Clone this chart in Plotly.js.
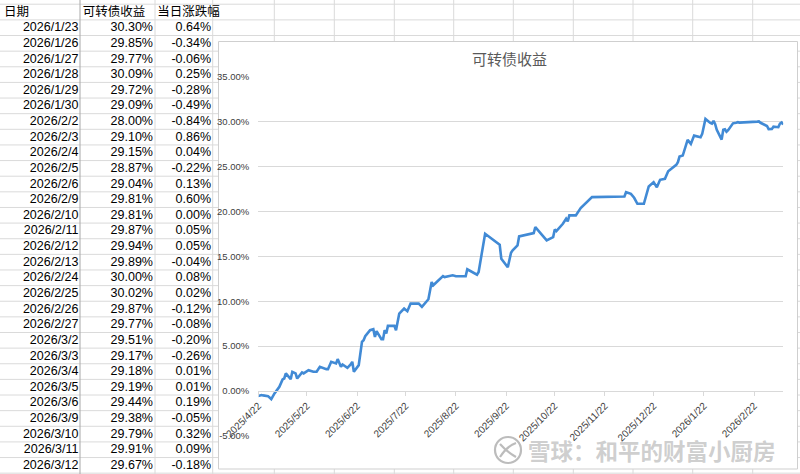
<!DOCTYPE html>
<html>
<head>
<meta charset="utf-8">
<script src="https://cdn.plot.ly/plotly-3.0.1.min.js"></script>
<style>
html,body{margin:0;padding:0;width:800px;height:474px;overflow:hidden;background:#ffffff;}
#chart{position:absolute;left:-10px;top:-20px;width:810px;height:494px;}
</style>
</head>
<body>
<div id="chart"></div>
<script>
// ---------- spreadsheet table data ----------
const headerLabels = ['日期', '可转债收益', '当日涨跌幅'];
const tableDates = ['2026/1/23','2026/1/26','2026/1/27','2026/1/28','2026/1/29','2026/1/30','2026/2/2','2026/2/3','2026/2/4','2026/2/5','2026/2/6','2026/2/9','2026/2/10','2026/2/11','2026/2/12','2026/2/13','2026/2/24','2026/2/25','2026/2/26','2026/2/27','2026/3/2','2026/3/3','2026/3/4','2026/3/5','2026/3/6','2026/3/9','2026/3/10','2026/3/11','2026/3/12'];
const tableYield = [30.30,29.85,29.77,30.09,29.72,29.09,28.00,29.10,29.15,28.87,29.04,29.81,29.81,29.87,29.94,29.89,30.00,30.02,29.87,29.77,29.51,29.17,29.18,29.19,29.44,29.38,29.79,29.91,29.67];
const tableChange = [0.64,-0.34,-0.06,0.25,-0.28,-0.49,-0.84,0.86,0.04,-0.22,0.13,0.60,0.00,0.05,0.05,-0.04,0.08,0.02,-0.12,-0.08,-0.20,-0.26,0.01,0.01,0.19,-0.05,0.32,0.09,-0.18];

// ---------- chart data (earlier history) ----------
const histDates = ['2025-04-22','2025-04-24','2025-04-25','2025-04-28','2025-04-30','2025-05-02','2025-05-05','2025-05-07','2025-05-08','2025-05-09','2025-05-12','2025-05-13','2025-05-15','2025-05-16','2025-05-19','2025-05-20','2025-05-23','2025-05-26','2025-05-28','2025-05-30','2025-06-03','2025-06-04','2025-06-06','2025-06-09','2025-06-10','2025-06-12','2025-06-13','2025-06-16','2025-06-18','2025-06-19','2025-06-20','2025-06-23','2025-06-25','2025-06-26','2025-06-27','2025-06-30','2025-07-02','2025-07-03','2025-07-04','2025-07-07','2025-07-08','2025-07-09','2025-07-10','2025-07-11','2025-07-15','2025-07-16','2025-07-18','2025-07-21','2025-07-23','2025-07-25','2025-07-30','2025-08-01','2025-08-05','2025-08-07','2025-08-08','2025-08-14','2025-08-15','2025-08-20','2025-08-22','2025-08-28','2025-08-29','2025-09-01','2025-09-04','2025-09-05','2025-09-08','2025-09-09','2025-09-18','2025-09-19','2025-09-23','2025-09-25','2025-09-26','2025-09-29','2025-09-30','2025-10-09','2025-10-10','2025-10-17','2025-10-21','2025-10-22','2025-10-23','2025-10-27','2025-10-29','2025-10-30','2025-10-31','2025-11-04','2025-11-07','2025-11-11','2025-11-14','2025-12-04','2025-12-05','2025-12-08','2025-12-10','2025-12-12','2025-12-16','2025-12-19','2025-12-22','2025-12-24','2025-12-26','2025-12-29','2025-12-31','2026-01-05','2026-01-06','2026-01-07','2026-01-09','2026-01-12','2026-01-14','2026-01-16','2026-01-20','2026-01-21','2026-01-22'];
const histValues = [-0.55,-0.44,-0.48,-0.56,-0.89,-0.26,0.48,1.30,1.40,1.97,1.33,2.15,1.97,1.40,2.08,1.97,2.33,2.15,2.15,2.70,2.44,2.44,3.26,3.08,3.56,2.70,2.96,2.59,2.96,3.26,2.15,2.89,5.48,5.67,6.10,6.78,6.89,6.03,6.67,5.78,5.78,6.78,6.41,7.26,7.26,6.78,8.63,9.19,8.89,9.74,9.74,9.37,10.22,12.15,11.78,12.81,12.70,12.89,12.78,12.78,13.56,13.26,12.96,13.26,16.22,17.52,16.30,14.74,13.78,15.41,15.67,16.22,17.22,17.59,18.26,16.78,17.15,18.00,17.81,18.63,19.19,18.89,19.56,19.56,20.37,21.11,21.59,21.67,22.14,21.96,21.52,20.85,20.85,22.78,23.26,22.70,23.52,23.63,24.48,25.19,25.48,26.11,26.22,27.96,27.52,28.44,28.26,28.63,29.47];

const chartTitle = '可转债收益';
const xTickVals = ['2025-04-22','2025-05-22','2025-06-22','2025-07-22','2025-08-22','2025-09-22','2025-10-22','2025-11-22','2025-12-22','2026-01-22','2026-02-22'];
const xTickText = ['2025/4/22','2025/5/22','2025/6/22','2025/7/22','2025/8/22','2025/9/22','2025/10/22','2025/11/22','2025/12/22','2026/1/22','2026/2/22'];
const yTickVals = [-5, 0, 5, 10, 15, 20, 25, 30, 35];
const watermarkText = '雪球：和平的财富小厨房';

// ---------- geometry helpers (page pixels -> paper fractions) ----------
const OX = 10, OY = 20, W = 810, H = 494;
const fx = px => (px + OX) / W;
const fy = py => 1 - (py + OY) / H;

const pct = v => v.toFixed(2) + '%';
const chartX = histDates.concat(tableDates.map(d => d.replace(/\//g, '-')));
const chartY = histValues.concat(tableYield);

const gridColor = '#dadada';
const rowH = 15.63;
const firstRowTop = 19.9;
const headerTop = 4.2;
const colEdges = [155, 212.7, 274.3, 334.3, 394.3, 453.7, 513.3, 573.3, 633, 692.7, 752.7];

const shapes = [];
const rowLines = [headerTop];
for (let k = 0; k <= 30; k++) rowLines.push(firstRowTop + k * rowH);
rowLines.forEach(y => shapes.push({type:'line', xref:'paper', yref:'paper', layer:'below',
  x0: fx(0), x1: fx(800), y0: fy(y), y1: fy(y), line:{color:gridColor, width:1}}));
colEdges.forEach(x => shapes.push({type:'line', xref:'paper', yref:'paper', layer:'below',
  x0: fx(x), x1: fx(x), y0: fy(0), y1: fy(474), line:{color:gridColor, width:1}}));
shapes.push({type:'line', xref:'paper', yref:'paper', layer:'below',
  x0: fx(80), x1: fx(80), y0: fy(0), y1: fy(474), line:{color:'#a8a8a8', width:1}});
shapes.push({type:'rect', xref:'paper', yref:'paper', layer:'below',
  x0: fx(218.5), x1: fx(797.5), y0: fy(469), y1: fy(41.5),
  fillcolor:'#ffffff', line:{color:'#cfcfcf', width:1}});
shapes.push({type:'circle', xref:'paper', yref:'paper', layer:'above',
  x0: fx(495), x1: fx(521), y0: fy(463), y1: fy(437),
  line:{color:'rgba(165,165,165,0.75)', width:2.2}});
shapes.push({type:'path', xref:'paper', yref:'paper', layer:'above',
  path: 'M' + fx(500) + ',' + fy(444) + ' Q' + fx(507) + ',' + fy(452) + ' ' + fx(516) + ',' + fy(457) +
        ' M' + fx(500) + ',' + fy(457) + ' Q' + fx(507) + ',' + fy(446) + ' ' + fx(516) + ',' + fy(443),
  line:{color:'rgba(165,165,165,0.75)', width:2.2}});

const cellFont = {family:'Liberation Sans, Arial, Noto Sans CJK SC, sans-serif', size:12.5, color:'#000000'};
const clear = 'rgba(0,0,0,0)';
const textShift = 6;

const headerTable = {
  type:'table',
  domain:{x:[fx(-4), fx(230)], y:[fy(474), fy(headerTop - textShift)]},
  columnwidth:[79, 75, 80],
  header:{values: headerLabels, align:'left', height: 15.6,
    font:{family:'Noto Sans CJK SC, sans-serif', size:12.5, color:'#000000'},
    fill:{color:clear}, line:{width:0, color:clear}},
  cells:{values: [], fill:{color:clear}, line:{width:0, color:clear}}
};

const bodyTable = {
  type:'table',
  domain:{x:[fx(0), fx(219)], y:[fy(474), fy(firstRowTop - 10 - textShift)]},
  columnwidth:[86.5, 74.5, 58],
  header:{values:['', '', ''], height:10, fill:{color:clear}, line:{width:0, color:clear}},
  cells:{values:[tableDates, tableYield.map(pct), tableChange.map(pct)],
    align:'right', height: rowH, font: cellFont,
    fill:{color:clear}, line:{width:0, color:clear}}
};

const line = {
  type:'scatter', mode:'lines', x: chartX, y: chartY,
  line:{color:'#418ad5', width:2.6}, hoverinfo:'skip', showlegend:false
};

const axisFamily = 'Liberation Sans, Arial, Noto Sans CJK SC, sans-serif';

const layout = {
  width: W, height: H,
  margin:{l:0, r:0, t:0, b:0, pad:0},
  paper_bgcolor:'rgba(0,0,0,0)', plot_bgcolor:'#ffffff',
  showlegend:false,
  title:{text: chartTitle, x: fx(509.5), xref:'paper', xanchor:'center', y: fy(60), yref:'paper', yanchor:'middle',
    font:{family:'Noto Sans CJK SC, sans-serif', size:15, color:'#595959'}},
  xaxis:{type:'date', range:['2025-04-22','2026-03-12'], domain:[fx(258.3), fx(783.2)],
    anchor:'free', position: fy(391), showgrid:false, zeroline:false,
    showline:true, linecolor:'#d9d9d9', linewidth:1,
    ticks:'outside', ticklen:4, tickcolor:'#d9d9d9', tickwidth:1,
    tickmode:'array', tickvals:xTickVals, ticktext:xTickText, tickangle:-45,
    tickfont: {family:axisFamily, size:10, color:'#404040'}, fixedrange:true},
  yaxis:{range:[-5, 35], domain:[fy(436), fy(76.7)], anchor:'x',
    tickmode:'array', tickvals:yTickVals, ticktext:yTickVals.map(pct),
    showgrid:true, gridcolor:'#d9d9d9', gridwidth:1, zeroline:false, showline:false,
    ticks:'', ticklabelstandoff:8, tickfont: {family:axisFamily, size:9.5, color:'#404040'}, fixedrange:true},
  shapes: shapes,
  annotations:[{xref:'paper', yref:'paper', x: fx(652), y: fy(450), xanchor:'center', yanchor:'middle',
    text: watermarkText, showarrow:false,
    font:{family:'Noto Sans CJK SC, sans-serif', size:22.5, weight:700, color:'rgba(165,165,165,0.55)'}}]
};

Plotly.newPlot('chart', [line, headerTable, bodyTable], layout, {staticPlot:true, displayModeBar:false});
</script>
</body>
</html>
